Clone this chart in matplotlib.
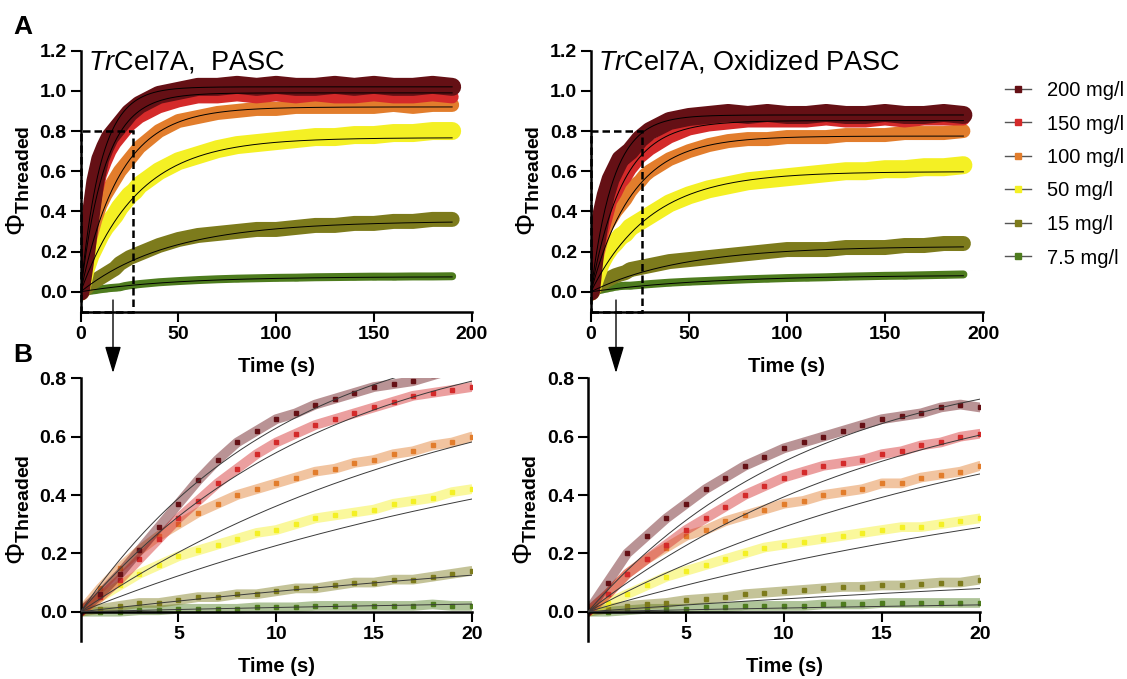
import numpy as np
import matplotlib.pyplot as plt
from matplotlib.lines import Line2D
from matplotlib.patches import Rectangle, FancyArrowPatch

plt.rcParams['font.family'] = ['Liberation Sans', 'DejaVu Sans']
plt.rcParams['mathtext.fontset'] = 'custom'
plt.rcParams['mathtext.rm'] = 'Liberation Sans'
plt.rcParams['mathtext.it'] = 'Liberation Sans:italic'
plt.rcParams['mathtext.bf'] = 'Liberation Sans:bold'

W, H = 1127, 679

labels = ['200 mg/l', '150 mg/l', '100 mg/l', '50 mg/l', '15 mg/l', '7.5 mg/l']
colors = ['#651015', '#d42a2a', '#e27d2c', '#f4f024', '#7d7b1c', '#4e7c1e']

t_long = [0, 2.5, 5, 7.5, 10, 12.5, 15, 17.5, 20, 22.5, 25, 27.5, 30,
          40, 50, 60, 70, 80, 90, 100, 110, 120, 130, 140, 150, 160, 170, 180, 190]
t_short = list(range(0, 21))

# panel A, PASC
pasc_long = [
    [0, 0.17, 0.37, 0.55, 0.66, 0.72, 0.77, 0.80, 0.83, 0.86, 0.89, 0.91, 0.93, 0.98, 1.00,
     1.02, 1.02, 1.03, 1.02, 1.03, 1.02, 1.02, 1.03, 1.02, 1.03, 1.02, 1.02, 1.03, 1.02],
    [0, 0.145, 0.32, 0.47, 0.58, 0.645, 0.70, 0.74, 0.77, 0.80, 0.83, 0.85, 0.87, 0.92, 0.95,
     0.97, 0.97, 0.98, 0.97, 0.98, 0.97, 0.98, 0.97, 0.97, 0.98, 0.97, 0.97, 0.98, 0.97],
    [0, 0.15, 0.27, 0.36, 0.43, 0.48, 0.52, 0.56, 0.60, 0.63, 0.66, 0.69, 0.72, 0.80, 0.85,
     0.87, 0.89, 0.90, 0.91, 0.91, 0.92, 0.92, 0.92, 0.92, 0.92, 0.93, 0.92, 0.93, 0.93],
    [0, 0.11, 0.18, 0.23, 0.28, 0.32, 0.35, 0.38, 0.42, 0.45, 0.48, 0.50, 0.53, 0.60, 0.65,
     0.68, 0.71, 0.73, 0.74, 0.75, 0.76, 0.77, 0.77, 0.78, 0.78, 0.79, 0.79, 0.80, 0.80],
    [0, 0.015, 0.04, 0.055, 0.07, 0.085, 0.10, 0.115, 0.14, 0.155, 0.17, 0.18, 0.19, 0.23,
     0.26, 0.28, 0.29, 0.30, 0.31, 0.31, 0.32, 0.33, 0.33, 0.34, 0.34, 0.35, 0.35, 0.36, 0.36],
    [0, 0.002, 0.005, 0.008, 0.012, 0.015, 0.018, 0.02, 0.022, 0.028, 0.032, 0.035, 0.038,
     0.047, 0.053, 0.058, 0.062, 0.065, 0.067, 0.069, 0.07, 0.072, 0.073, 0.074, 0.075, 0.075,
     0.076, 0.076, 0.077],
]
# panel A, oxidized PASC
oxi_long = [
    [0, 0.23, 0.37, 0.48, 0.56, 0.61, 0.66, 0.68, 0.70, 0.73, 0.76, 0.78, 0.80, 0.85, 0.87,
     0.88, 0.89, 0.88, 0.89, 0.88, 0.88, 0.89, 0.88, 0.88, 0.89, 0.88, 0.88, 0.89, 0.88],
    [0, 0.155, 0.27, 0.36, 0.45, 0.49, 0.54, 0.57, 0.61, 0.64, 0.67, 0.69, 0.71, 0.77, 0.81,
     0.83, 0.84, 0.85, 0.85, 0.85, 0.85, 0.86, 0.85, 0.85, 0.86, 0.85, 0.86, 0.86, 0.86],
    [0, 0.155, 0.25, 0.32, 0.36, 0.40, 0.43, 0.46, 0.50, 0.53, 0.55, 0.58, 0.60, 0.66, 0.70,
     0.73, 0.75, 0.76, 0.76, 0.77, 0.77, 0.77, 0.78, 0.78, 0.78, 0.79, 0.79, 0.79, 0.80],
    [0, 0.075, 0.14, 0.185, 0.22, 0.245, 0.275, 0.29, 0.32, 0.335, 0.35, 0.365, 0.38, 0.44,
     0.48, 0.51, 0.53, 0.55, 0.56, 0.57, 0.58, 0.59, 0.60, 0.60, 0.61, 0.61, 0.62, 0.62, 0.63],
    [0, 0.022, 0.04, 0.055, 0.068, 0.08, 0.088, 0.095, 0.11, 0.115, 0.12, 0.125, 0.13, 0.15,
     0.16, 0.17, 0.18, 0.19, 0.20, 0.21, 0.21, 0.21, 0.22, 0.22, 0.22, 0.23, 0.23, 0.24, 0.24],
    [0, 0.003, 0.01, 0.015, 0.02, 0.025, 0.028, 0.03, 0.03, 0.032, 0.034, 0.036, 0.038, 0.045,
     0.05, 0.054, 0.058, 0.062, 0.065, 0.068, 0.07, 0.072, 0.075, 0.077, 0.079, 0.08, 0.082,
     0.084, 0.086],
]
# panel B, first 20 s
pasc_short = [
    [0, 0.06, 0.13, 0.21, 0.29, 0.37, 0.45, 0.52, 0.58, 0.62, 0.66, 0.68, 0.71, 0.73, 0.75,
     0.77, 0.78, 0.79, 0.81, 0.83, 0.84],
    [0, 0.05, 0.11, 0.18, 0.25, 0.32, 0.38, 0.44, 0.49, 0.54, 0.58, 0.61, 0.64, 0.66, 0.68,
     0.70, 0.72, 0.74, 0.75, 0.76, 0.77],
    [0, 0.08, 0.15, 0.21, 0.26, 0.30, 0.34, 0.37, 0.40, 0.42, 0.44, 0.46, 0.48, 0.49, 0.51,
     0.52, 0.54, 0.55, 0.57, 0.58, 0.60],
    [0, 0.05, 0.09, 0.13, 0.16, 0.19, 0.21, 0.23, 0.25, 0.27, 0.28, 0.30, 0.32, 0.33, 0.34,
     0.35, 0.37, 0.38, 0.39, 0.41, 0.42],
    [0, 0.01, 0.02, 0.03, 0.03, 0.04, 0.05, 0.05, 0.06, 0.06, 0.07, 0.08, 0.08, 0.09, 0.10,
     0.10, 0.11, 0.11, 0.12, 0.13, 0.14],
    [0, 0.0, 0.0, 0.005, 0.005, 0.01, 0.01, 0.01, 0.01, 0.015, 0.015, 0.015, 0.02, 0.02, 0.02,
     0.02, 0.02, 0.02, 0.025, 0.02, 0.02],
]
oxi_short = [
    [0, 0.10, 0.20, 0.26, 0.32, 0.37, 0.42, 0.46, 0.50, 0.53, 0.56, 0.58, 0.60, 0.62, 0.64,
     0.66, 0.67, 0.68, 0.70, 0.71, 0.70],
    [0, 0.06, 0.13, 0.18, 0.23, 0.28, 0.32, 0.36, 0.40, 0.43, 0.46, 0.48, 0.50, 0.51, 0.52,
     0.54, 0.55, 0.57, 0.58, 0.60, 0.61],
    [0, 0.06, 0.13, 0.18, 0.22, 0.26, 0.28, 0.31, 0.33, 0.35, 0.37, 0.38, 0.40, 0.41, 0.42,
     0.44, 0.44, 0.46, 0.47, 0.48, 0.50],
    [0, 0.03, 0.06, 0.09, 0.12, 0.14, 0.16, 0.18, 0.20, 0.22, 0.23, 0.24, 0.25, 0.26, 0.27,
     0.28, 0.29, 0.29, 0.30, 0.31, 0.32],
    [0, 0.01, 0.02, 0.025, 0.03, 0.04, 0.045, 0.05, 0.06, 0.065, 0.07, 0.075, 0.08, 0.085,
     0.085, 0.09, 0.09, 0.095, 0.10, 0.10, 0.11],
    [0, 0.0, 0.005, 0.01, 0.01, 0.01, 0.015, 0.015, 0.02, 0.02, 0.02, 0.02, 0.025, 0.025,
     0.025, 0.03, 0.03, 0.03, 0.03, 0.03, 0.03],
]

# one-phase fits  phi = plateau * (1 - exp(-k t)), parameters
pasc_plateau = [1.02, 0.99, 0.92, 0.767, 0.352, 0.075]
pasc_rate = [0.096, 0.08, 0.05, 0.035, 0.022, 0.0215]
oxi_plateau = [0.88, 0.852, 0.775, 0.598, 0.227, 0.083]
oxi_rate = [0.088, 0.062, 0.047, 0.033, 0.0215, 0.0166]

band_px = [18, 13, 14, 18, 15, 8]


def fig_rect(x0, y_top, x1, y_bot):
    return [x0 / W, 1 - y_bot / H, (x1 - x0) / W, (y_bot - y_top) / H]


def style(ax):
    for s in ['top', 'right']:
        ax.spines[s].set_visible(False)
    for s in ['left', 'bottom']:
        ax.spines[s].set_linewidth(1.8)
    ax.tick_params(width=1.5, length=7.5, labelsize=14, pad=2.5)
    for lbl in ax.get_xticklabels() + ax.get_yticklabels():
        lbl.set_fontweight('bold')


def draw_long(ax, data, plateau, rate, title, box_x):
    t_fit = np.linspace(0, max(t_long), 400)
    for i in reversed(range(len(labels))):
        ax.plot(t_long, data[i], color=colors[i], lw=band_px[i] * 0.72,
                solid_joinstyle='round', solid_capstyle='round', zorder=2)
        ax.plot(t_long, data[i], 's', color=colors[i], ms=2.5, zorder=2)
    for i in range(len(labels)):
        ax.plot(t_fit, plateau[i] * (1 - np.exp(-rate[i] * t_fit)),
                color='black', lw=0.7, zorder=3)
    ax.set_xlim(0, 200)
    ax.set_ylim(-0.1, 1.2)
    ax.set_xticks([0, 50, 100, 150, 200])
    ax.set_yticks([0, 0.2, 0.4, 0.6, 0.8, 1.0, 1.2])
    ax.set_yticklabels(['0.0', '0.2', '0.4', '0.6', '0.8', '1.0', '1.2'])
    style(ax)
    ax.set_xlabel('Time (s)', fontsize=14.5, fontweight='bold')
    ax.xaxis.set_label_coords(0.5, -0.175)
    ax.set_ylabel(r'$\Phi_{\mathbf{Threaded}}$', fontsize=20)
    ax.yaxis.set_label_coords(-0.125, 0.5)
    ax.text(0.018, 0.958, title, transform=ax.transAxes, fontsize=19.5,
            ha='left', va='center')
    ax.add_patch(Rectangle((0, -0.1), box_x, 0.9, fill=False, ec='black', lw=1.8,
                           ls=(0, (3, 1.6)), clip_on=False, zorder=4))


def draw_short(ax, data, plateau, rate):
    t_fit = np.linspace(0, 20, 200)
    for i in reversed(range(len(labels))):
        ax.plot(t_short, data[i], color=colors[i], lw=7, alpha=0.45, zorder=2,
                solid_capstyle='round')
        ax.plot(t_short, data[i], 's', color=colors[i], ms=2.8, zorder=2)
    for i in range(len(labels)):
        ax.plot(t_fit, plateau[i] * (1 - np.exp(-rate[i] * t_fit)),
                color='#3a3a3a', lw=0.7, zorder=3)
    ax.set_xlim(0, 20)
    ax.set_ylim(-0.1, 0.8)
    ax.spines['bottom'].set_position(('data', 0))
    ax.set_xticks([5, 10, 15, 20])
    ax.set_yticks([0, 0.2, 0.4, 0.6, 0.8])
    ax.set_yticklabels(['0.0', '0.2', '0.4', '0.6', '0.8'])
    style(ax)
    ax.set_xlabel('Time (s)', fontsize=14.5, fontweight='bold')
    ax.xaxis.set_label_coords(0.5, -0.06)
    ax.set_ylabel(r'$\Phi_{\mathbf{Threaded}}$', fontsize=20)
    ax.yaxis.set_label_coords(-0.125, 0.5)


fig = plt.figure(figsize=(W / 100, H / 100), dpi=100)

ax1 = fig.add_axes(fig_rect(80.7, 50.7, 471.7, 311.8))
ax2 = fig.add_axes(fig_rect(591, 50.7, 983, 311.8))
ax3 = fig.add_axes(fig_rect(80.7, 378.3, 471.7, 640.9))
ax4 = fig.add_axes(fig_rect(588, 378.3, 980, 640.9))

draw_long(ax1, pasc_long, pasc_plateau, pasc_rate, r'$\mathit{Tr}$Cel7A,  PASC', 27)
draw_long(ax2, oxi_long, oxi_plateau, oxi_rate, r'$\mathit{Tr}$Cel7A, Oxidized PASC', 26)
draw_short(ax3, pasc_short, pasc_plateau, pasc_rate)
draw_short(ax4, oxi_short, oxi_plateau, oxi_rate)

# zoom arrows from panel A to panel B
for x in [113, 616]:
    fig.add_artist(FancyArrowPatch((x / W, 1 - 300 / H), (x / W, 1 - 373 / H),
                                   transform=fig.transFigure,
                                   arrowstyle='-|>,head_length=1.66,head_width=0.5',
                                   mutation_scale=10, lw=1.0, color='black',
                                   shrinkA=0, shrinkB=0))

fig.text(23 / W, 1 - 27 / H, 'A', fontsize=19, fontweight='bold', ha='center', va='center')
fig.text(23 / W, 1 - 355 / H, 'B', fontsize=19, fontweight='bold', ha='center', va='center')

handles = [Line2D([], [], color='#555555', lw=1.0, marker='s', ms=5,
                  mfc=c, mec=c) for c in colors]
fig.legend(handles, labels, loc='upper left', bbox_to_anchor=(1005 / W, 1 - 81 / H),
           frameon=False, fontsize=14.5, handlelength=1.3, handletextpad=0.8,
           labelspacing=0.72, borderpad=0, borderaxespad=0)

fig.savefig('out.png', dpi=100)
